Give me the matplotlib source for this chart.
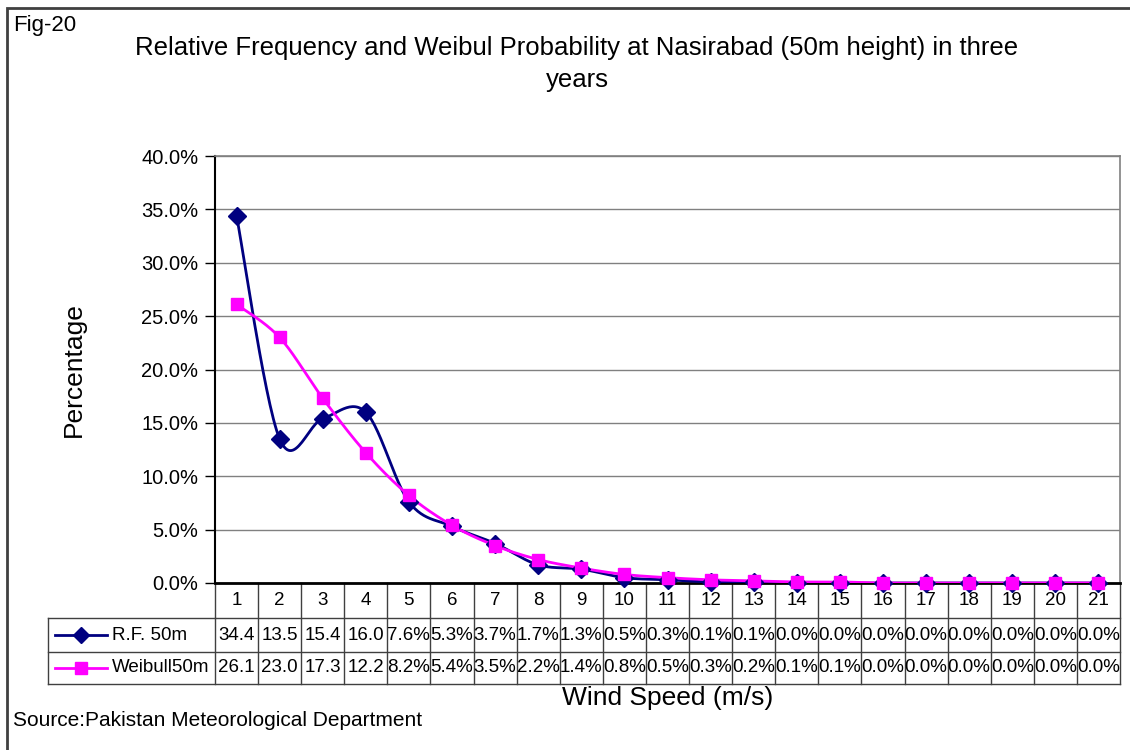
import matplotlib
matplotlib.use("Agg")
import matplotlib.pyplot as plt
import numpy as np
from matplotlib.lines import Line2D
from matplotlib.patches import Rectangle
from matplotlib.transforms import Bbox, TransformedBbox

plt.rcParams["font.family"] = ["Liberation Sans", "DejaVu Sans"]

# ---- data -------------------------------------------------------------------
SPEED = np.arange(1, 22)
RF_50M = np.array([34.4, 13.5, 15.4, 16.0, 7.6, 5.3, 3.7, 1.7, 1.3, 0.5, 0.3,
                   0.1, 0.1, 0.0, 0.0, 0.0, 0.0, 0.0, 0.0, 0.0, 0.0])
WEIBULL_50M = np.array([26.1, 23.0, 17.3, 12.2, 8.2, 5.4, 3.5, 2.2, 1.4, 0.8,
                        0.5, 0.3, 0.2, 0.1, 0.1, 0.0, 0.0, 0.0, 0.0, 0.0, 0.0])
SERIES_NAMES = ["R.F. 50m", "Weibull50m"]
Y_TICKS = np.arange(0, 40.1, 5)

NAVY, MAGENTA, GRID, EDGE = "#000080", "#FF00FF", "#808080", "#404040"
W, H = 1130, 750


def smooth(x, y, n=30):
    """Excel-style smoothed line (Catmull-Rom through the points)."""
    px = np.concatenate([[x[0]], x, [x[-1]]])
    py = np.concatenate([[y[0]], y, [y[-1]]])
    t = np.linspace(0, 1, n)[:, None]
    xs, ys = [], []
    for i in range(1, len(px) - 2):
        p0 = np.array([px[i - 1], py[i - 1]])
        p1 = np.array([px[i], py[i]])
        p2 = np.array([px[i + 1], py[i + 1]])
        p3 = np.array([px[i + 2], py[i + 2]])
        b1 = p1 + (p2 - p0) / 6
        b2 = p2 - (p3 - p1) / 6
        pts = ((1 - t) ** 3 * p1 + 3 * (1 - t) ** 2 * t * b1
               + 3 * (1 - t) * t ** 2 * b2 + t ** 3 * p2)
        xs.append(pts[:, 0])
        ys.append(pts[:, 1])
    return np.concatenate(xs), np.concatenate(ys)


def cell_text(v):
    s = f"{v:.1f}%"
    # wide values are clipped by the narrow table cells
    return s[:-1] if v >= 10 else s


fig = plt.figure(figsize=(W / 100, H / 100), dpi=100)

# plot area in pixels: x 215..1120, y 156..583
AX_L, AX_R, AX_T, AX_B = 215, 1120, 156, 583
ax = fig.add_axes([AX_L / W, 1 - AX_B / H, (AX_R - AX_L) / W,
                   (AX_B - AX_T) / H])


def ay(py):
    """pixel row -> axes fraction"""
    return (AX_B - py) / (AX_B - AX_T)


def ax_x(px):
    return (px - AX_L) / (AX_R - AX_L)


ax.set_xlim(0.5, 21.5)
ax.set_ylim(0, 40)
ax.set_yticks(Y_TICKS)
ax.set_yticklabels([f"{v:.1f}%" for v in Y_TICKS], fontsize=14.5)
ax.set_xticks([])
ax.tick_params(axis="y", length=7, width=1, color="black", pad=5)
ax.grid(axis="y", color=GRID, lw=1)
ax.set_axisbelow(True)
for side in ["top", "right"]:
    ax.spines[side].set_color(GRID)
    ax.spines[side].set_linewidth(1.2)
ax.spines["left"].set_color("black")
ax.spines["left"].set_linewidth(1.5)
ax.spines["bottom"].set_color("black")
ax.spines["bottom"].set_linewidth(2)

sx, sy = smooth(SPEED.astype(float), RF_50M)
ax.plot(sx, sy, color=NAVY, lw=2, zorder=3)
ax.plot(SPEED, RF_50M, ls="none", marker="D", ms=9, color=NAVY, zorder=4,
        clip_on=False)
sx, sy = smooth(SPEED.astype(float), WEIBULL_50M)
ax.plot(sx, sy, color=MAGENTA, lw=2, zorder=3)
ax.plot(SPEED, WEIBULL_50M, ls="none", marker="s", ms=9, color=MAGENTA,
        zorder=5, clip_on=False)

ax.set_ylabel("Percentage", fontsize=19)
ax.yaxis.set_label_coords(ax_x(86), 0.5)

# ---- data table under the axis ----------------------------------------------
tr = ax.get_xaxis_transform()
ROW_Y = [583, 618, 652, 684]
tbl = dict(color=EDGE, lw=1, clip_on=False, transform=ax.transAxes)
# horizontal lines
ax.add_line(Line2D([0, 1], [ay(ROW_Y[1])] * 2, **tbl))
ax.add_line(Line2D([ax_x(48), 0], [ay(ROW_Y[1])] * 2, **tbl))
ax.add_line(Line2D([ax_x(48), 1], [ay(ROW_Y[2])] * 2, **tbl))
ax.add_line(Line2D([ax_x(48), 1], [ay(ROW_Y[3])] * 2, **tbl))
ax.add_line(Line2D([ax_x(48)] * 2, [ay(ROW_Y[1]), ay(ROW_Y[3])], **tbl))
# vertical lines between categories
for k in range(len(SPEED) + 1):
    xk = k / len(SPEED)
    ax.add_line(Line2D([xk, xk], [ay(ROW_Y[0]), ay(ROW_Y[3])], **tbl))

mid = lambda a, b: ay((ROW_Y[a] + ROW_Y[b]) / 2)
for i, s in enumerate(SPEED):
    ax.text(s, mid(0, 1), str(s), transform=tr, ha="center", va="center",
            fontsize=13.5)
    for row, vals in ((1, RF_50M), (2, WEIBULL_50M)):
        t = ax.text(s, mid(row, row + 1), cell_text(vals[i]), transform=tr,
                    ha="center", va="center", fontsize=13.5)
        box = Bbox([[s - 0.5, ay(ROW_Y[row + 1])], [s + 0.5, ay(ROW_Y[row])]])
        t.set_clip_box(TransformedBbox(box, tr))
        t.set_clip_on(True)

# legend keys inside the table
for row, (name, col, mk, ms) in enumerate(
        [(SERIES_NAMES[0], NAVY, "D", 8), (SERIES_NAMES[1], MAGENTA, "s", 9)]):
    yy = mid(row + 1, row + 2)
    ax.add_line(Line2D([ax_x(55), ax_x(107)], [yy, yy], color=col, lw=2,
                       transform=ax.transAxes, clip_on=False))
    ax.add_line(Line2D([ax_x(81)], [yy], color=col, marker=mk, ms=ms,
                       transform=ax.transAxes, clip_on=False))
    ax.text(ax_x(112), yy, name, transform=ax.transAxes, ha="left",
            va="center", fontsize=13.5)

ax.text(0.5, ay(698), "Wind Speed (m/s)", transform=ax.transAxes,
        ha="center", va="center", fontsize=19)

# ---- figure texts and chart border ------------------------------------------
fig.text(577 / W, 1 - 64 / H,
         "Relative Frequency and Weibul Probability at Nasirabad (50m height) in three\nyears",
         ha="center", va="center", fontsize=18.5, linespacing=1.4)
fig.text(13 / W, 1 - 25 / H, "Fig-20", ha="left", va="center", fontsize=16)
fig.text(13 / W, 1 - 720 / H, "Source:Pakistan Meteorological Department",
         ha="left", va="center", fontsize=15)
fig.add_artist(Rectangle((7 / W, -0.05), 1.2, 1 - 8 / H + 0.05,
                         transform=fig.transFigure, fill=False, ec=EDGE,
                         lw=2))

fig.savefig("out.png", dpi=100)
